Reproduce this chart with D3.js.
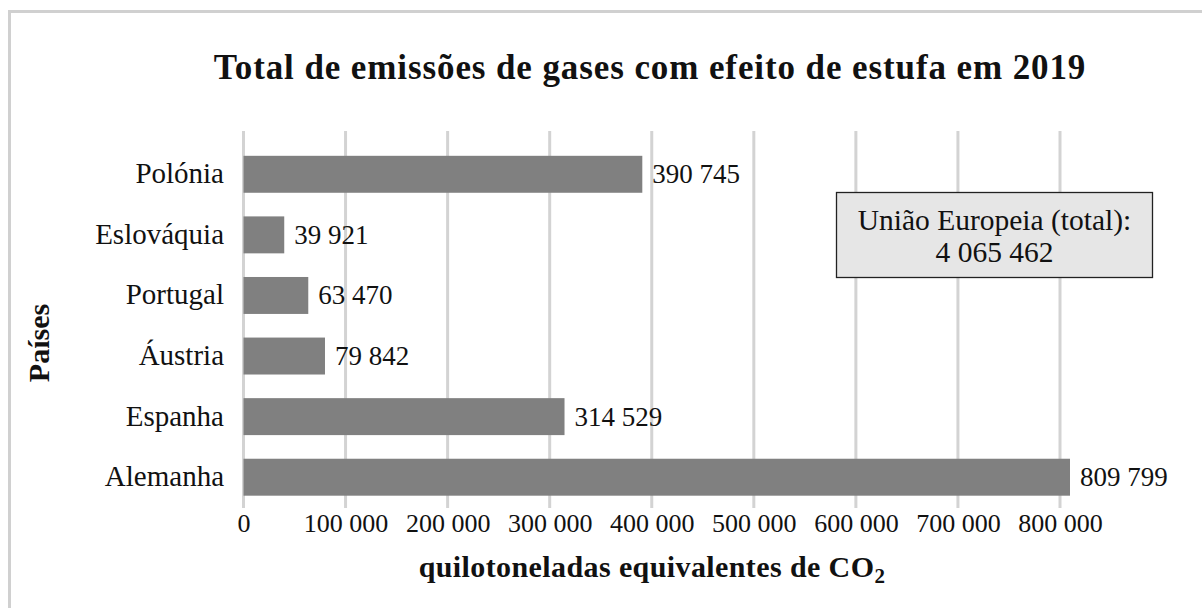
<!DOCTYPE html>
<html>
<head>
<meta charset="utf-8">
<script src="https://cdn.jsdelivr.net/npm/d3@7"></script>
<style>
  html, body { margin: 0; padding: 0; background: #fff; }
  svg { display: block; }
  text { font-family: "Liberation Serif", "Times New Roman", serif; fill: #111; }
</style>
</head>
<body>
<svg id="chart" width="1202" height="608"></svg>
<script>
// ---- data ----
const categories = ["Polónia", "Eslováquia", "Portugal", "Áustria", "Espanha", "Alemanha"];
const values = [390745, 39921, 63470, 79842, 314529, 809799];
const xTicks = [0, 100000, 200000, 300000, 400000, 500000, 600000, 700000, 800000];
const chartTitle = "Total de emissões de gases com efeito de estufa em 2019";
const xTitle = "quilotoneladas equivalentes de CO";
const xTitleSub = "2";
const yTitle = "Países";
const noteLines = ["União Europeia (total):", "4 065 462"];

// ---- setup ----
const svg = d3.select("#chart");
const locale = d3.formatLocale({ decimal: ",", thousands: " ", grouping: [3], currency: ["", "€"] });
const fmt = locale.format(",d");

const x = d3.scaleLinear().domain([0, 800000]).range([243.5, 1060]);
const y = d3.scaleBand().domain(categories).range([144, 507.5]).paddingInner(0.39).paddingOuter(0.195);

// outer frame (only top/left visible)
svg.append("rect")
  .attr("x", 9.5).attr("y", 11.5).attr("width", 1300).attr("height", 700)
  .attr("fill", "none").attr("stroke", "#d0d0d0").attr("stroke-width", 3);

// title
svg.append("text")
  .attr("x", 650).attr("y", 79)
  .attr("text-anchor", "middle")
  .style("font-size", "35px").style("font-weight", "bold").style("letter-spacing", "0.9px")
  .text(chartTitle);

// gridlines
svg.append("g").selectAll("line").data(xTicks).join("line")
  .attr("x1", d => x(d)).attr("x2", d => x(d))
  .attr("y1", 131).attr("y2", 508)
  .attr("stroke", "#d3d3d3").attr("stroke-width", 3);

// x tick labels via axis
const xAxis = d3.axisBottom(x).tickValues(xTicks).tickFormat(fmt).tickSize(0).tickPadding(0);
const gx = svg.append("g").attr("transform", "translate(0,514)").call(xAxis);
gx.select(".domain").remove();
gx.selectAll("text")
  .attr("y", 0).attr("dy", "17.5px")
  .style("font-size", "26px").style("font-family", "Liberation Serif, serif").attr("fill", "#111");

// bars
svg.append("g").selectAll("rect").data(categories).join("rect")
  .attr("x", x(0))
  .attr("y", d => y(d))
  .attr("width", (d, i) => x(values[i]) - x(0))
  .attr("height", y.bandwidth())
  .attr("fill", "#808080");

// category labels via axis
const yAxis = d3.axisLeft(y).tickSize(0).tickPadding(0);
const gy = svg.append("g").attr("transform", "translate(224,0)").call(yAxis);
gy.select(".domain").remove();
gy.selectAll("text")
  .attr("x", 0).attr("dy", "9px")
  .style("font-size", "29px").style("font-family", "Liberation Serif, serif").attr("fill", "#111");

// value labels
svg.append("g").selectAll("text").data(categories).join("text")
  .attr("x", (d, i) => x(values[i]) + 10)
  .attr("y", d => y(d) + y.bandwidth() / 2 + 9)
  .style("font-size", "27px")
  .text((d, i) => fmt(values[i]));

// annotation box
const note = svg.append("g");
note.append("rect")
  .attr("x", 836.5).attr("y", 192.5).attr("width", 316).attr("height", 85)
  .attr("fill", "#e6e6e6").attr("stroke", "#222").attr("stroke-width", 1.3);
note.selectAll("text").data(noteLines).join("text")
  .attr("x", 994.5)
  .attr("y", (d, i) => 230 + i * 32)
  .attr("text-anchor", "middle")
  .style("font-size", "29.5px")
  .text(d => d);

// x title
const xt = svg.append("text")
  .attr("x", 652).attr("y", 577)
  .attr("text-anchor", "middle")
  .style("font-size", "30px").style("font-weight", "bold").style("letter-spacing", "0.4px");
xt.append("tspan").text(xTitle);
xt.append("tspan").attr("dy", 6).style("font-size", "21px").text(xTitleSub);

// y title
svg.append("text")
  .attr("transform", "translate(49,343) rotate(-90)")
  .attr("text-anchor", "middle")
  .style("font-size", "30px").style("font-weight", "bold")
  .text(yTitle);
</script>
</body>
</html>
